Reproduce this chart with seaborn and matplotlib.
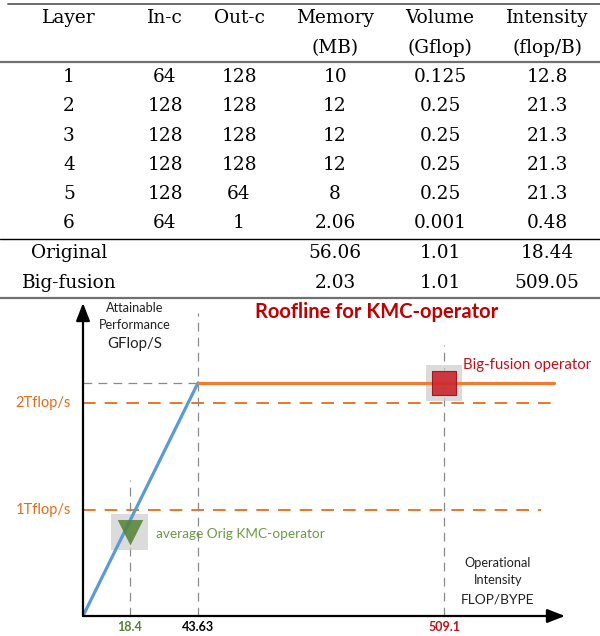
import numpy as np
import pandas as pd
import matplotlib
matplotlib.use("Agg")
import matplotlib.pyplot as plt
import matplotlib.transforms as mtransforms
from matplotlib.lines import Line2D
import seaborn as sns

# ---------------- data ----------------
layers = ['1', '2', '3', '4', '5', '6']
in_c = ['64', '128', '128', '128', '128', '64']
out_c = ['128', '128', '128', '128', '64', '1']
memory_mb = ['10', '12', '12', '12', '8', '2.06']
volume_gflop = ['0.125', '0.25', '0.25', '0.25', '0.25', '0.001']
intensity_fb = ['12.8', '21.3', '21.3', '21.3', '21.3', '0.48']
summary_names = ['Original', 'Big-fusion']
summary_memory = ['56.06', '2.03']
summary_volume = ['1.01', '1.01']
summary_intensity = ['18.44', '509.05']
headers = ['Layer', 'In-c', 'Out-c', 'Memory\n(MB)', 'Volume\n(Gflop)', 'Intensity\n(flop/B)']

orig_intensity = 18.4
ridge_intensity = 43.63
fused_intensity = 509.1
peak_perf = 2.19          # Tflop/s (roof)
orig_perf = 0.79          # Tflop/s
ref_levels = [1.0, 2.0]
ref_labels = ['1Tflop/s', '2Tflop/s']
tick_values = [orig_intensity, ridge_intensity, fused_intensity]
tick_labels = ['18.4', '43.63', '509.1']

# ---------------- figure ----------------
sns.set_theme(style="white")
plt.rcParams['font.family'] = ['Lato', 'DejaVu Sans']
W, H = 600, 636
fig = plt.figure(figsize=(W / 100, H / 100), dpi=100)

def fx(x):
    return x / W

def fy(y):
    return 1 - y / H

# ---------------- table ----------------
serif = ['DejaVu Serif']
col_x = [69, 165, 239, 335, 440, 547]
tfs = 13.3
for cx, h in zip(col_x, headers):
    lines = h.split('\n')
    for i, ln in enumerate(lines):
        fig.text(fx(cx), fy(18 + 30 * i), ln, ha='center', va='center',
                 fontsize=tfs, family=serif, color='black')
row_y = [77, 106, 136, 165, 194, 223]
for i, ry in enumerate(row_y):
    vals = [layers[i], in_c[i], out_c[i], memory_mb[i], volume_gflop[i], intensity_fb[i]]
    for cx, v in zip(col_x, vals):
        fig.text(fx(cx), fy(ry), v, ha='center', va='center', fontsize=tfs,
                 family=serif, color='black')
for i, ry in enumerate([253, 283]):
    vals = [summary_names[i], '', '', summary_memory[i], summary_volume[i], summary_intensity[i]]
    for cx, v in zip(col_x, vals):
        if v:
            fig.text(fx(cx), fy(ry), v, ha='center', va='center', fontsize=tfs,
                     family=serif, color='black')

for y, c, lw, x0 in [(4, '#6e6e6e', 1.4, 8), (62, '#707070', 1.6, 0),
                     (239, 'black', 1.0, 0), (298, '#707070', 1.6, 0)]:
    fig.add_artist(Line2D([fx(x0), 1], [fy(y), fy(y)], color=c, lw=lw))

# ---------------- roofline axes ----------------
ax_l, ax_r, ax_t, ax_b = 83, 565, 303, 616
ax = fig.add_axes([fx(ax_l), fy(ax_b), (ax_r - ax_l) / W, (ax_b - ax_t) / H])
ax.patch.set_alpha(0)

bp_val = [0, orig_intensity, ridge_intensity, fused_intensity, 700]
bp_pos = [0, 46.5, 115, 361, 482]

def fwd(x):
    return np.interp(x, bp_val, bp_pos)

def inv(p):
    return np.interp(p, bp_pos, bp_val)

ax.set_xscale('function', functions=(fwd, inv))
ax.set_xlim(0, 700)
ax.set_ylim(0, 2.94)
for s in ax.spines.values():
    s.set_visible(False)
ax.set_xticks([])
ax.set_yticks([])

orange = '#ED7D31'
orange_d = '#E36C1A'
blue = '#5B9BD5'
grey = '#8a8a8a'
green = '#548235'
green_t = '#6A9A45'
red_t = '#C0101A'

# reference dashed lines (1T, 2T)
ref_end = [662, 682.6]
for lvl, xe in zip(ref_levels, ref_end):
    ax.plot([0, xe], [lvl, lvl], color=orange_d, lw=1.3, dashes=(7, 5), zorder=1)

# grey dashed helpers
ax.plot([0, ridge_intensity], [peak_perf, peak_perf], color=grey, lw=0.9, dashes=(7, 5), zorder=1)
ax.plot([ridge_intensity, ridge_intensity], [0, 2.85], color=grey, lw=0.9, dashes=(7, 5), zorder=1)
ax.plot([orig_intensity, orig_intensity], [0, 1.28], color=grey, lw=0.9, dashes=(7, 5), zorder=1)
ax.plot([fused_intensity, fused_intensity], [0, 2.55], color=grey, lw=0.9, dashes=(7, 5), zorder=1)

# roofline
mem_df = pd.DataFrame({'x': [0, ridge_intensity], 'y': [0, peak_perf]})
cmp_df = pd.DataFrame({'x': [ridge_intensity, 682.6], 'y': [peak_perf, peak_perf]})
sns.lineplot(data=mem_df, x='x', y='y', ax=ax, color=blue, lw=2.3, zorder=3,
             estimator=None, sort=False)
sns.lineplot(data=cmp_df, x='x', y='y', ax=ax, color=orange, lw=2.3, zorder=3,
             estimator=None, sort=False)

# markers with glow boxes
pts = pd.DataFrame({'x': [orig_intensity, fused_intensity], 'y': [orig_perf, peak_perf]})
sns.scatterplot(data=pts, x='x', y='y', ax=ax, marker='s', s=26 ** 2,
                color='#cfcfcf', alpha=0.75, edgecolor='none', zorder=2, legend=False)
sns.scatterplot(data=pts.iloc[[0]], x='x', y='y', ax=ax, marker='v', s=17.5 ** 2,
                color=green, alpha=0.85, edgecolor=green, linewidth=0.5, zorder=4, legend=False)
sns.scatterplot(data=pts.iloc[[1]], x='x', y='y', ax=ax, marker='s', s=17 ** 2,
                color='#CC2A30', alpha=0.92, edgecolor='#A01018', linewidth=0.8, zorder=4, legend=False)
ax.set_xlabel('')
ax.set_ylabel('')

# axes arrows
ap = dict(arrowstyle='-|>,head_length=0.9,head_width=0.35', color='black', lw=1.6,
          shrinkA=0, shrinkB=0)
ax.annotate('', xy=(0, 1.0), xytext=(0, 0), xycoords='axes fraction', arrowprops=ap,
            annotation_clip=False)
ax.annotate('', xy=(1.0, 0), xytext=(0, 0), xycoords='axes fraction', arrowprops=ap,
            annotation_clip=False)

# tick labels
tr = mtransforms.blended_transform_factory(ax.transData, fig.transFigure)
tick_colors = [green, 'black', red_t]
for v, lab, c in zip(tick_values, tick_labels, tick_colors):
    ax.text(v, fy(627), lab, ha='center', va='center', fontsize=9, fontweight='bold',
            color=c, transform=tr, clip_on=False)
for lvl, lab in zip(ref_levels, ref_labels):
    ax.text(-0.025, lvl, lab, ha='right', va='center', fontsize=10.5, color=orange_d,
            transform=ax.get_yaxis_transform(), clip_on=False)

# annotations
fig.text(fx(377), fy(312), 'Roofline for KMC-operator', ha='center', va='center',
         fontsize=14.5, fontweight='bold', color='#C00000')
fig.text(fx(135), fy(308), 'Attainable', ha='center', va='center', fontsize=9.2, color='#222222')
fig.text(fx(135), fy(325), 'Performance', ha='center', va='center', fontsize=9.2, color='#222222')
fig.text(fx(135), fy(344), 'GFlop/S', ha='center', va='center', fontsize=10.8, color='#222222')
fig.text(fx(463), fy(365), 'Big-fusion operator', ha='left', va='center', fontsize=10.8, color=red_t)
fig.text(fx(156), fy(534), 'average Orig KMC-operator', ha='left', va='center', fontsize=9.8,
         color=green_t)
fig.text(fx(498), fy(563), 'Operational', ha='center', va='center', fontsize=9.2, color='#222222')
fig.text(fx(498), fy(580), 'Intensity', ha='center', va='center', fontsize=9.2, color='#222222')
fig.text(fx(498), fy(599), 'FLOP/BYPE', ha='center', va='center', fontsize=9.9, color='#222222')

fig.savefig('out.png', dpi=100)
